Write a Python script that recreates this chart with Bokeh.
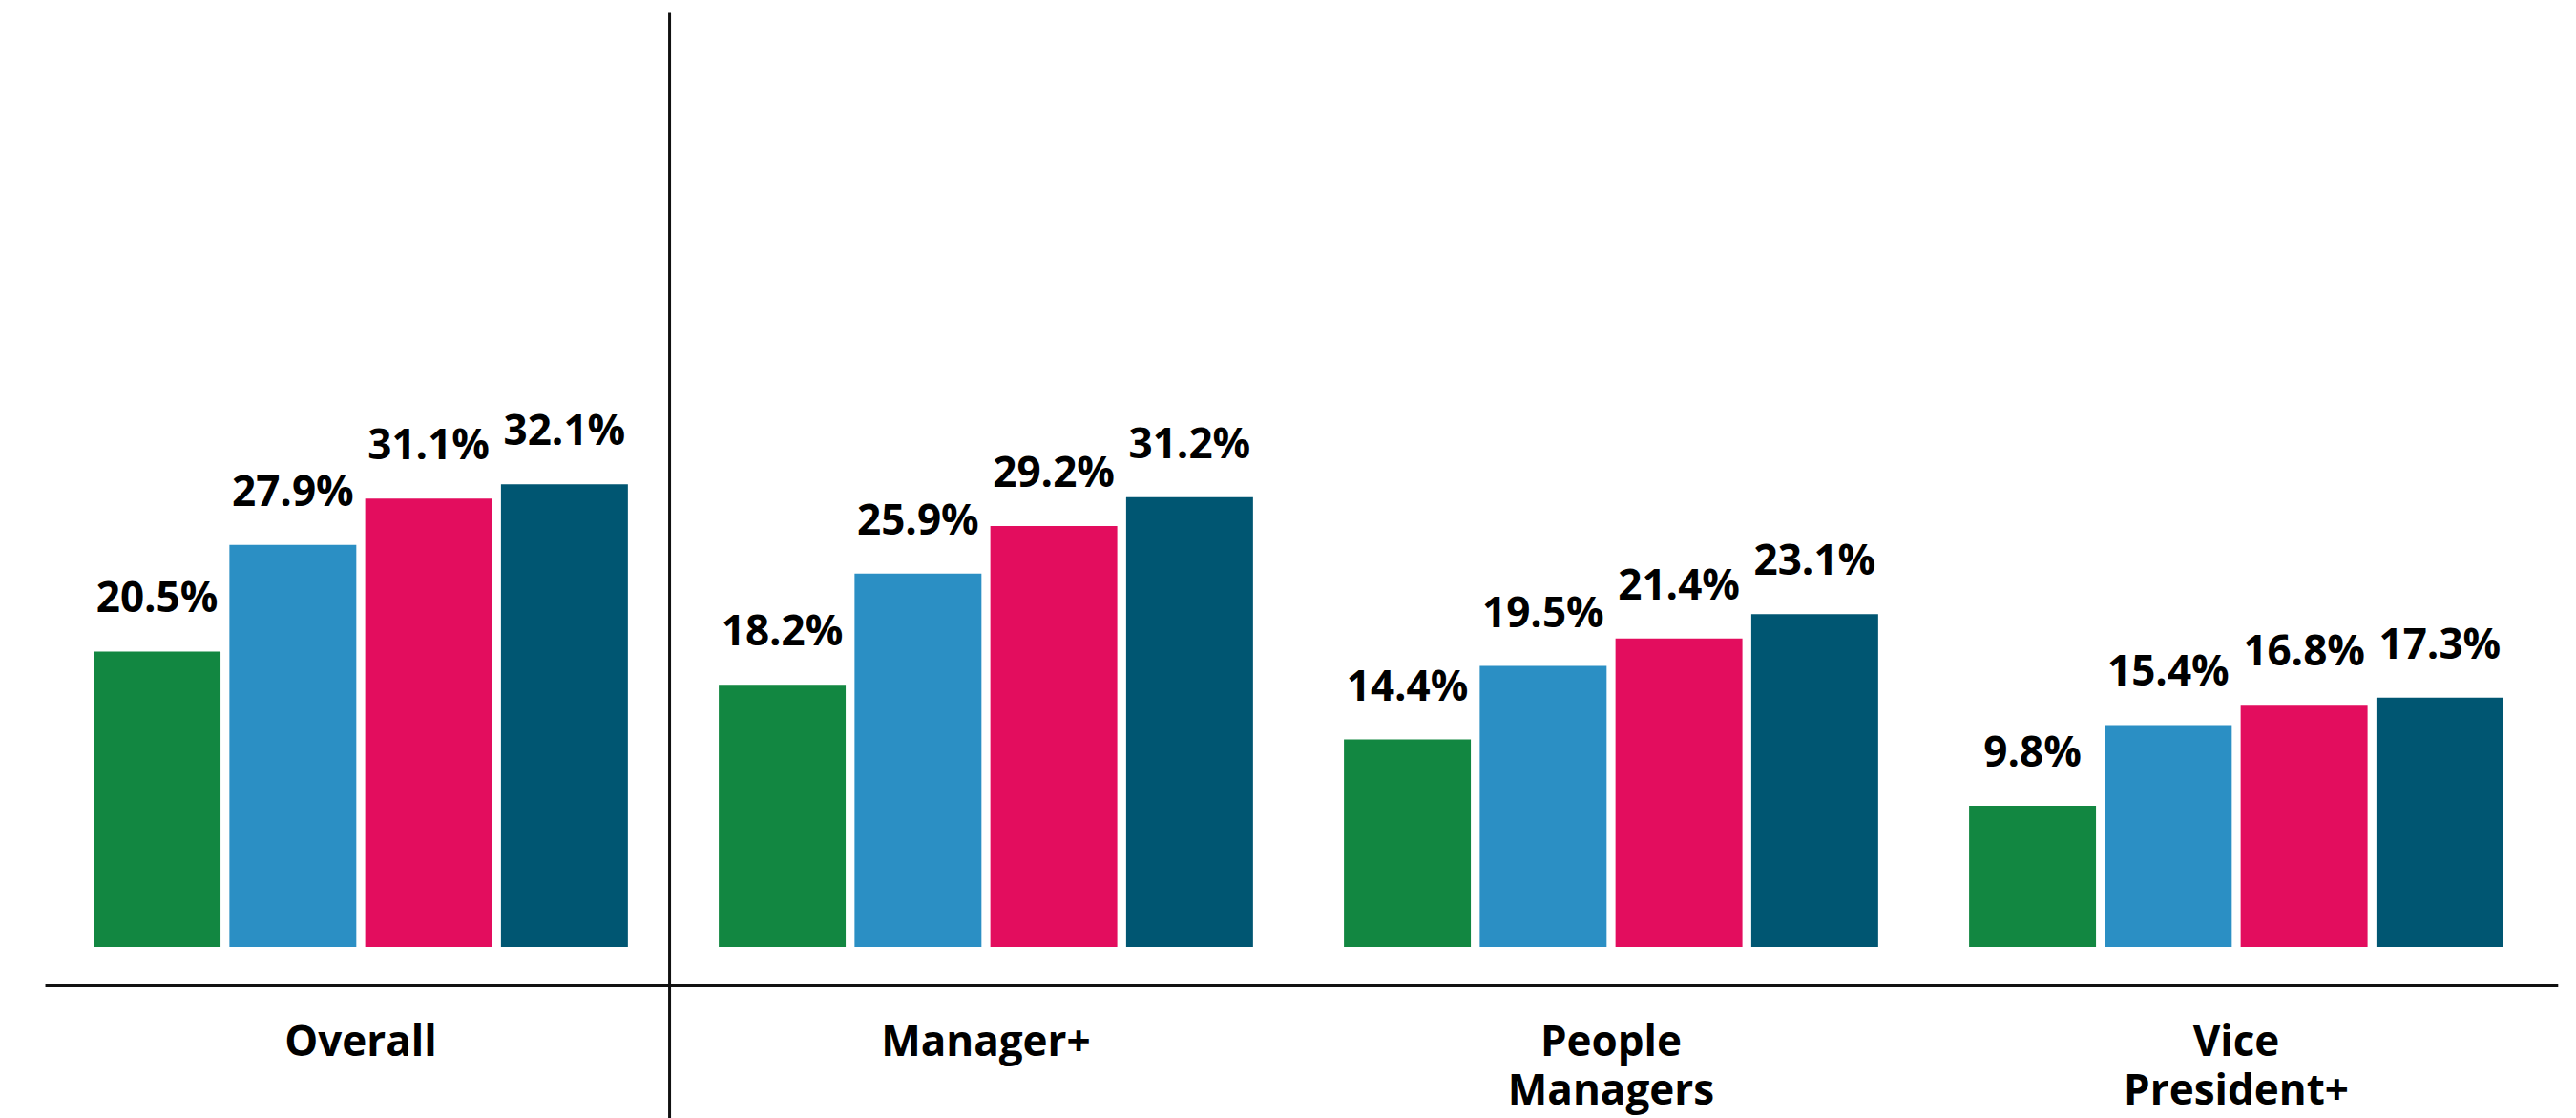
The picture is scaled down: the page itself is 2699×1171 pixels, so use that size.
import numpy as np
from bokeh.plotting import figure
from bokeh.models import ColumnDataSource
from bokeh.core.properties import value
from bokeh.embed import file_html
from bokeh.resources import INLINE

# ---- data ----
cat_line1 = ["Overall", "Manager+", "People", "Vice"]
cat_line2 = ["", "", "Managers", "President+"]
series_a = [20.5, 18.2, 14.4, 9.8]
series_b = [27.9, 25.9, 19.5, 15.4]
series_c = [31.1, 29.2, 21.4, 16.8]
series_d = [32.1, 31.2, 23.1, 17.3]
colors = ["#128741", "#2B8FC4", "#E30D5E", "#005672"]

series = [series_a, series_b, series_c, series_d]

FONT = value("Open Sans")

Y0, Y1 = -11.89, 65.66
p = figure(width=2699, height=1171, x_range=(-0.5763, 3.5443), y_range=(Y0, Y1),
           output_backend="svg", toolbar_location=None,
           x_axis_location=None, y_axis_location=None,
           min_border=0, min_border_left=0, min_border_right=0,
           min_border_top=0, min_border_bottom=0)
p.outline_line_color = None
p.xgrid.visible = False
p.ygrid.visible = False
p.background_fill_color = "white"
p.border_fill_color = "white"

groups = np.arange(len(cat_line1))
step = 0.2172
bar_w = 0.203
offsets = (np.arange(len(series)) - (len(series) - 1) / 2) * step

for i, vals in enumerate(series):
    xs = groups + offsets[i]
    src = ColumnDataSource(dict(x=xs, top=vals, lab=[f"{v:.1f}%" for v in vals]))
    p.vbar(x="x", top="top", bottom=0, width=bar_w, source=src,
           fill_color=colors[i], line_color=None)
    p.text(x="x", y="top", text="lab", source=src, text_align="center",
           text_baseline="alphabetic", y_offset=-58, text_font=FONT,
           text_font_style="bold", text_font_size="44px", text_color="black")

# baseline rule under the bars and group separator
axis_y = -2.68
p.segment(x0=[-0.5045], y0=[axis_y], x1=[3.515], y1=[axis_y],
          line_color="#111111", line_width=3)
p.segment(x0=[0.494], y0=[Y0], x1=[0.494], y1=[64.8],
          line_color="#111111", line_width=3)

# category labels
csrc = ColumnDataSource(dict(x=groups, y=[axis_y] * len(groups), l1=cat_line1, l2=cat_line2))
p.text(x="x", y="y", text="l1", source=csrc, text_align="center", text_baseline="alphabetic",
       y_offset=57, text_font=FONT, text_font_style="bold", text_font_size="44px",
       text_color="black")
p.text(x="x", y="y", text="l2", source=csrc, text_align="center", text_baseline="alphabetic",
       y_offset=108, text_font=FONT, text_font_style="bold", text_font_size="44px",
       text_color="black")

open("out.html", "w").write(file_html(p, INLINE))
